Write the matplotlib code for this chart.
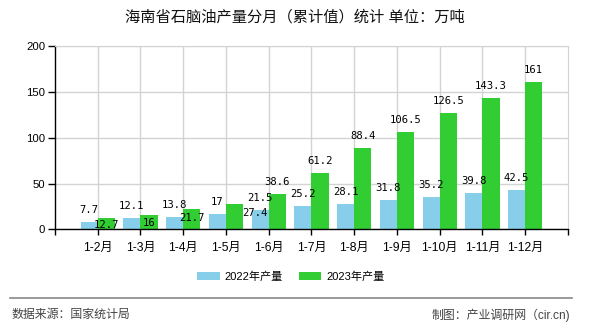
import matplotlib
matplotlib.use("Agg")
import matplotlib.pyplot as plt
from matplotlib.lines import Line2D
import numpy as np

plt.rcParams['font.family'] = ['Liberation Sans', 'Noto Sans CJK SC', 'DejaVu Sans']

# 数据
months = ['1-2月', '1-3月', '1-4月', '1-5月', '1-6月', '1-7月', '1-8月',
          '1-9月', '1-10月', '1-11月', '1-12月']
prod_2022 = [7.7, 12.1, 13.8, 17, 21.5, 25.2, 28.1, 31.8, 35.2, 39.8, 42.5]
prod_2023 = [12.7, 16, 21.7, 27.4, 38.6, 61.2, 88.4, 106.5, 126.5, 143.3, 161]
y_ticks = [0, 50, 100, 150, 200]

# 重叠的标签在原图里被挪了位置 (x偏移, 标签中心y)
moved_labels = {0: (0, 4.7), 1: (0, 7.2), 2: (0, 12.7), 3: (0.47, 17.8)}

c_2022 = '#87ceeb'
c_2023 = '#32cd32'

fig = plt.figure(figsize=(5.9, 3.3), dpi=100)
ax = fig.add_axes([0.0932, 0.305, 0.8695, 0.5556])

x = np.arange(len(months))
w = 0.4
ax.bar(x - w / 2, prod_2022, w, color=c_2022, label='2022年产量', zorder=2)
ax.bar(x + w / 2, prod_2023, w, color=c_2023, label='2023年产量', zorder=2)

lab_font = dict(family='DejaVu Sans Mono', fontsize=7.6, color='black')
for i, v in enumerate(prod_2022):
    ax.annotate(f'{v:g}', (x[i] - w / 2, v), xytext=(0, 8.6), textcoords='offset points',
                ha='center', va='center', zorder=4, **lab_font)
for i, v in enumerate(prod_2023):
    if i in moved_labels:
        dx, ly = moved_labels[i]
        ax.text(x[i] + w / 2 + dx, ly, f'{v:g}', ha='center', va='center', zorder=4, **lab_font)
    else:
        ax.annotate(f'{v:g}', (x[i] + w / 2, v), xytext=(0, 8.6), textcoords='offset points',
                    ha='center', va='center', zorder=4, **lab_font)

ax.set_xlim(-1, len(months))
ax.set_ylim(0, 200)
ax.set_yticks(y_ticks)
ax.set_xticks(x)
ax.set_xticklabels(months, fontsize=8.7)
ax.set_xticks([-1, len(months)], minor=True)
ax.tick_params(axis='y', labelsize=8.2, length=5, width=1, pad=2)
ax.tick_params(axis='x', which='both', length=4, width=1, pad=5, direction='out')

ax.grid(True, color='#d3d3d3', linewidth=1, zorder=0)
ax.set_axisbelow(True)
for s in ['top', 'right']:
    ax.spines[s].set_color('#d3d3d3')
for s in ['left', 'bottom']:
    ax.spines[s].set_color('black')
    ax.spines[s].set_linewidth(1)

fig.text(0.5, 1 - 17 / 330, '海南省石脑油产量分月（累计值）统计 单位：万吨',
         ha='center', va='center', fontsize=11, color='#111111', fontweight='medium')

fig.legend(loc='center', bbox_to_anchor=(0.493, 1 - 277 / 330), ncol=2, frameon=False,
           fontsize=8, handlelength=2.0, handleheight=0.72, handletextpad=0.45,
           columnspacing=1.44)

fig.add_artist(Line2D([10 / 590, 572 / 590], [1 - 298 / 330, 1 - 298 / 330],
                      color='#888888', linewidth=1.2, transform=fig.transFigure))
fig.text(12 / 590, 1 - 315 / 330, '数据来源：国家统计局', ha='left', va='center',
         fontsize=8.6, color='#444444')
fig.text(570 / 590, 1 - 315 / 330, '制图：产业调研网（cir.cn)', ha='right', va='center',
         fontsize=8.6, color='#444444')

plt.savefig('out.png', dpi=100)
